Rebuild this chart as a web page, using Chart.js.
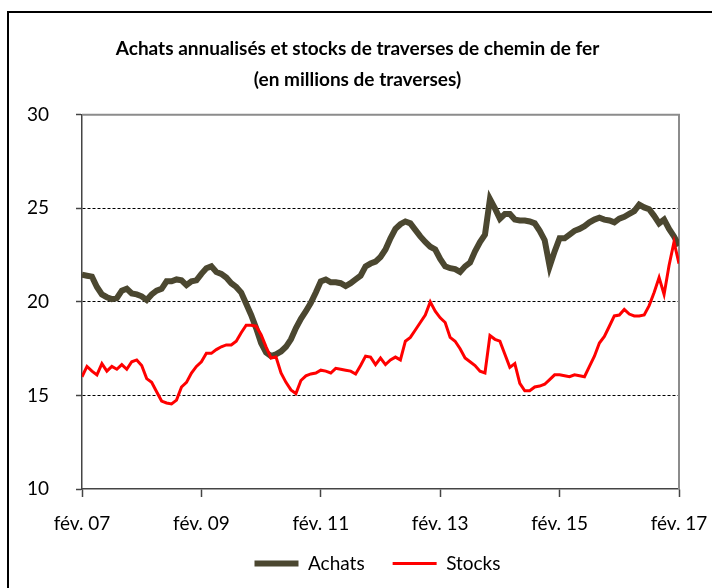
<!DOCTYPE html>
<html lang="fr">
<head>
<meta charset="utf-8">
<title>Achats et stocks de traverses</title>
<script src="https://cdn.jsdelivr.net/npm/chart.js@4.4.1/dist/chart.umd.min.js"></script>
<style>
    body { margin: 0; background: #fff; }
    #wrap { position: relative; width: 712px; height: 588px; overflow: hidden; }
    #frame {
        position: absolute; left: 7px; top: 11px; width: 720px; height: 600px;
        border-left: 2px solid #000; border-top: 2px solid #000; pointer-events: none;
    }
    canvas { position: absolute; left: 0; top: 0; }
</style>
</head>
<body>
<div id="wrap">
    <canvas id="myChart" width="712" height="588"></canvas>
    <div id="frame"></div>
</div>
<script>
// monthly values, fév. 2007 -> fév. 2017 (121 months)
const achats = [
    21.45, 21.4, 21.35, 20.8, 20.4, 20.25, 20.15, 20.2, 20.6, 20.7,
    20.45, 20.4, 20.3, 20.1, 20.4, 20.6, 20.7, 21.1, 21.1, 21.2,
    21.15, 20.9, 21.1, 21.15, 21.5, 21.8, 21.9, 21.6, 21.5, 21.3,
    21.0, 20.8, 20.5, 19.9, 19.3, 18.6, 17.8, 17.3, 17.1, 17.2,
    17.35, 17.6, 18.0, 18.6, 19.1, 19.5, 19.95, 20.5, 21.1, 21.2,
    21.05, 21.05, 21.0, 20.85, 21.0, 21.2, 21.4, 21.9, 22.05, 22.15,
    22.4, 22.8, 23.4, 23.9, 24.15, 24.3, 24.2, 23.85, 23.5, 23.2,
    22.95, 22.8, 22.3, 21.9, 21.8, 21.75, 21.6, 21.9, 22.1, 22.7,
    23.2, 23.6, 25.5, 25.0, 24.45, 24.7, 24.7, 24.4, 24.35, 24.35,
    24.3, 24.2, 23.8, 23.3, 21.9, 22.7, 23.4, 23.4, 23.6, 23.8,
    23.9, 24.05, 24.25, 24.4, 24.5, 24.4, 24.35, 24.25, 24.45, 24.55,
    24.7, 24.85, 25.2, 25.05, 24.95, 24.6, 24.2, 24.4, 23.9, 23.5,
    23.0
];
const stocks = [
    16.0, 16.55, 16.3, 16.1, 16.7, 16.3, 16.55, 16.4, 16.65, 16.4,
    16.8, 16.9, 16.6, 15.9, 15.7, 15.2, 14.7, 14.6, 14.55, 14.75,
    15.45, 15.7, 16.2, 16.55, 16.8, 17.25, 17.25, 17.45, 17.6, 17.7,
    17.7, 17.9, 18.35, 18.75, 18.75, 18.7, 18.25, 17.6, 17.0, 17.05,
    16.2, 15.7, 15.3, 15.1, 15.8, 16.05, 16.15, 16.2, 16.35, 16.3,
    16.2, 16.45, 16.4, 16.35, 16.3, 16.15, 16.6, 17.1, 17.05, 16.65,
    17.0, 16.65, 16.9, 17.05, 16.9, 17.9, 18.1, 18.5, 18.9, 19.3,
    20.0, 19.5, 19.15, 18.9, 18.1, 17.9, 17.5, 17.0, 16.8, 16.6,
    16.3, 16.2, 18.2, 18.0, 17.9, 17.2, 16.5, 16.7, 15.65, 15.25,
    15.25, 15.45, 15.5, 15.6, 15.85, 16.1, 16.1, 16.05, 16.0, 16.1,
    16.05, 16.0, 16.55, 17.1, 17.8, 18.15, 18.7, 19.25, 19.3, 19.6,
    19.35, 19.25, 19.25, 19.3, 19.8, 20.5, 21.3, 20.4, 21.95, 23.2,
    22.05
];
const tickLabels = ['fév. 07', 'fév. 09', 'fév. 11', 'fév. 13', 'fév. 15', 'fév. 17'];
const titleLines = [
    'Achats annualisés et stocks de traverses de chemin de fer',
    '(en millions de traverses)'
];

const FONT = "Lato, 'Open Sans', sans-serif";

document.addEventListener('DOMContentLoaded', function() {
    const ctx = document.getElementById('myChart').getContext('2d');

    const toPoints = arr => arr.map((v, i) => ({ x: i, y: v }));

    const plotBorder = {
        id: 'plotBorder',
        afterLayout(chart) {
            // let axis labels hang outside their boxes without being clipped
            chart.scales.x.bottom = chart.height;
            chart.scales.y.left = 0;
            // legend sits a little right of centre in the original
            chart.legend.left += 20;
            chart.legend.right += 20;
        },
        // gray top and right edges of the plot area
        beforeDatasetsDraw(chart) {
            const a = chart.chartArea;
            const c = chart.ctx;
            c.save();
            c.strokeStyle = '#8c8c8c';
            c.lineWidth = 2;
            c.beginPath();
            c.moveTo(a.left, a.top);
            c.lineTo(a.right, a.top);
            c.lineTo(a.right, a.bottom);
            c.stroke();
            c.restore();
        }
    };

    new Chart(ctx, {
        type: 'line',
        data: {
            datasets: [{
                label: 'Achats',
                data: toPoints(achats),
                borderColor: '#4b4730',
                backgroundColor: '#4b4730',
                borderWidth: 6,
                pointRadius: 0,
                tension: 0,
                order: 1
            }, {
                label: 'Stocks',
                data: toPoints(stocks),
                borderColor: '#ff0000',
                backgroundColor: '#ff0000',
                borderWidth: 3,
                pointRadius: 0,
                tension: 0,
                order: 0
            }]
        },
        options: {
            responsive: false,
            animation: false,
            layout: { padding: { left: 36, right: 33, top: 0, bottom: 5 } },
            scales: {
                x: {
                    type: 'linear',
                    min: 0,
                    max: 120,
                    afterFit: s => {
                        s.height = 37;
                        s.paddingLeft = 0;
                        s.paddingRight = 0;
                    },
                    afterBuildTicks: s => { s.ticks = tickLabels.map((_, i) => ({ value: i * 24 })); },
                    ticks: {
                        callback: v => tickLabels[v / 24],
                        color: '#000',
                        padding: 10,
                        maxRotation: 0,
                        font: { family: FONT, size: 19, lineHeight: 1.75 }
                    },
                    grid: { drawOnChartArea: false, drawTicks: true, tickLength: 8, tickColor: '#444', tickWidth: 1.5 },
                    border: { display: true, color: '#444', width: 1.5 }
                },
                y: {
                    min: 10,
                    max: 30,
                    afterFit: s => { s.width = 46; },
                    ticks: {
                        stepSize: 5,
                        color: '#000',
                        padding: 27,
                        font: { family: FONT, size: 19 }
                    },
                    grid: {
                        color: c => (c.tick && c.tick.value > 10 && c.tick.value < 30) ? '#000' : 'rgba(0,0,0,0)',
                        lineWidth: 1,
                        tickLength: 6,
                        tickColor: '#444',
                        tickWidth: 1.5
                    },
                    border: { display: true, color: '#444', width: 1.5, dash: [3, 2] }
                }
            },
            plugins: {
                title: {
                    display: true,
                    text: titleLines,
                    color: '#000',
                    font: { family: FONT, size: 19, weight: 'bold', lineHeight: 1.6 },
                    padding: { top: 34, bottom: 20 }
                },
                legend: {
                    position: 'bottom',
                    labels: {
                        sort: (a, b) => a.datasetIndex - b.datasetIndex,
                        usePointStyle: true,
                        pointStyle: 'line',
                        pointStyleWidth: 44,
                        color: '#000',
                        padding: 28,
                        font: { family: FONT, size: 19 }
                    }
                },
                tooltip: { enabled: false }
            }
        },
        plugins: [plotBorder]
    });
});
</script>
</body>
</html>
